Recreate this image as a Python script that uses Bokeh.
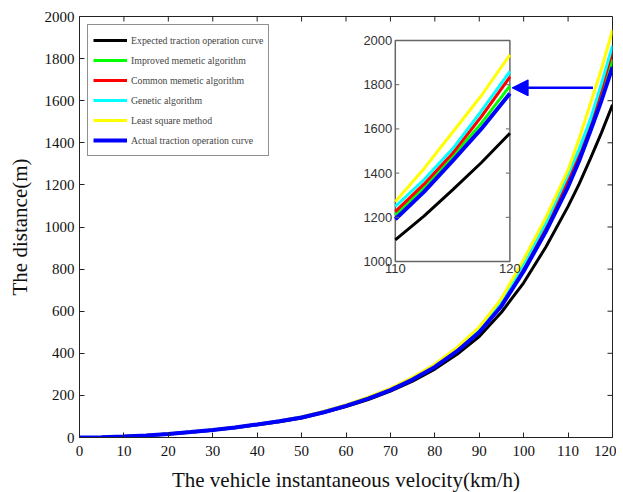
import math
from bokeh.plotting import figure
from bokeh.models import Range1d, FixedTicker, Legend, LegendItem, Arrow, NormalHead
from bokeh.core.properties import value
from bokeh.embed import file_html
from bokeh.resources import INLINE

# ---- data ----
velocity = [0, 5, 10, 15, 20, 25, 30, 35, 40, 45, 50, 55, 60, 65, 70, 75, 80, 85, 90, 95, 100, 105, 110, 112.5, 115, 117.5, 120]
expected = [0, 1, 5, 10, 17, 25, 35, 46, 60, 75, 93, 118, 147, 180, 220, 268, 325, 395, 480, 595, 735, 905, 1098, 1205, 1324, 1447, 1580]
improved = [0, 1, 5, 10, 17, 26, 36, 48, 62, 77, 96, 121, 151, 186, 227, 277, 338, 414, 505, 632, 805, 995, 1211, 1335, 1475, 1625, 1795]
common = [0, 1, 5, 10, 17, 26, 36, 48, 62, 78, 96, 122, 152, 187, 228, 279, 340, 417, 510, 638, 815, 1005, 1226, 1350, 1490, 1655, 1835]
genetic = [0, 1, 5, 10, 17, 26, 36, 48, 63, 78, 97, 123, 153, 189, 230, 282, 343, 421, 515, 645, 825, 1020, 1249, 1370, 1510, 1680, 1860]
least_sq = [0, 1, 5, 10, 17, 26, 37, 49, 63, 79, 98, 124, 155, 192, 233, 286, 348, 428, 525, 660, 845, 1045, 1271, 1420, 1585, 1750, 1935]
actual = [0, 1, 5, 10, 17, 26, 36, 48, 62, 77, 95, 120, 150, 185, 225, 275, 335, 410, 500, 625, 790, 978, 1191, 1315, 1455, 1600, 1760]

series_names = ["Expected traction operation curve", "Improved memetic algorithm",
                "Common memetic algorithm", "Genetic algorithm",
                "Least square method", "Actual traction operation curve"]
series_values = [expected, improved, common, genetic, least_sq, actual]
series_colors = ["#000000", "#00ff00", "#ff0000", "#00ffff", "#ffff00", "#0000ff"]
series_widths = [3, 3, 3, 3, 3, 4]

x_ticks = list(range(0, 121, 10))
y_ticks = list(range(0, 2001, 200))
inset_x_ticks = [110, 120]
inset_y_ticks = [1000, 1200, 1400, 1600, 1800, 2000]

SERIF = "Liberation Serif"
SANS = "Liberation Sans"
AX = "#222222"

p = figure(frame_width=533, frame_height=421,
           x_range=Range1d(0, 120), y_range=Range1d(0, 2000),
           output_backend="svg", toolbar_location=None,
           min_border_left=79, min_border_right=4, min_border_top=16, min_border_bottom=46,
           background_fill_color="white", border_fill_color="white")
p.grid.visible = False
p.outline_line_color = AX

for ax, ticks in ((p.xaxis[0], x_ticks), (p.yaxis[0], y_ticks)):
    ax.ticker = FixedTicker(ticks=ticks)
    ax.major_tick_in = 5
    ax.major_tick_out = 0
    ax.minor_tick_line_color = None
    ax.axis_line_color = AX
    ax.major_tick_line_color = AX
    ax.major_label_text_font = SERIF
    ax.major_label_text_font_size = "15px"
    ax.major_label_text_color = "#111111"
    ax.axis_label_text_font = SERIF
    ax.axis_label_text_font_size = "21px"
    ax.axis_label_text_font_style = "normal"
    ax.axis_label_text_color = "#111111"

p.xaxis[0].axis_label = "The vehicle instantaneous velocity(km/h)"
p.yaxis[0].axis_label = "The distance(m)"
p.xaxis[0].major_label_standoff = 8
p.xaxis[0].axis_label_standoff = 9
p.yaxis[0].major_label_standoff = 5
p.yaxis[0].axis_label_standoff = 10

# tick marks on the top and right edges of the box
p.ray(x=[x_ticks[-1]] * len(y_ticks), y=y_ticks, length=5, length_units="screen",
      angle=math.pi, line_color=AX, line_width=1)
p.ray(x=x_ticks, y=[y_ticks[-1]] * len(x_ticks), length=5, length_units="screen",
      angle=-math.pi / 2, line_color=AX, line_width=1)

renderers = []
for name, vals, col, w in zip(series_names, series_values, series_colors, series_widths):
    r = p.line(velocity, vals, line_color=col, line_width=w)
    renderers.append(r)

legend = Legend(items=[LegendItem(label=n, renderers=[r]) for n, r in zip(series_names, renderers)],
                location="top_left", margin=8, padding=5, spacing=0,
                glyph_width=34, glyph_height=20, label_height=20, label_standoff=4,
                label_text_font=SERIF, label_text_font_size="9.8px",
                border_line_color=AX, border_line_width=1,
                background_fill_color="white", background_fill_alpha=1)
p.add_layout(legend)

# ---- inset (zoomed view 110-120 km/h) ----
sub = p.subplot(x_source=Range1d(110, 120), y_source=Range1d(1000, 2000),
                x_target=Range1d(71.1, 96.9), y_target=Range1d(836, 1886))
sub.quad(left=[inset_x_ticks[0]], right=[inset_x_ticks[-1]],
         bottom=[inset_y_ticks[0]], top=[inset_y_ticks[-1]],
         fill_color="white", line_color="#666666", line_width=1.5)
for vals, col, w in zip(series_values, series_colors, series_widths):
    xs = [v for v in velocity if v >= 110]
    ys = [y for v, y in zip(velocity, vals) if v >= 110]
    sub.line(xs, ys, line_color=col, line_width=w)
sub.ray(x=[110] * len(inset_y_ticks), y=inset_y_ticks, length=4, length_units="screen",
        angle=0, line_color="#666666", line_width=1)
sub.ray(x=[120] * len(inset_y_ticks), y=inset_y_ticks, length=4, length_units="screen",
        angle=math.pi, line_color="#666666", line_width=1)
sub.text(x=[110] * len(inset_y_ticks), y=inset_y_ticks, text=[str(t) for t in inset_y_ticks],
         x_offset=-3, text_align="right", text_baseline="middle",
         text_font=value(SANS), text_font_size="13px", text_color="#333333")
sub.text(x=inset_x_ticks, y=[1000] * len(inset_x_ticks), text=[str(t) for t in inset_x_ticks],
         y_offset=2, text_align="center", text_baseline="top",
         text_font=value(SANS), text_font_size="13px", text_color="#333333")

# ---- arrow pointing to the inset ----
p.add_layout(Arrow(x_start=115.6, y_start=1661, x_end=97.4, y_end=1661,
                   line_color="#0000ff", line_width=2.5,
                   end=NormalHead(size=16, fill_color="#0000ff", line_color="#0000ff")))

open("out.html", "w").write(file_html(p, INLINE))
